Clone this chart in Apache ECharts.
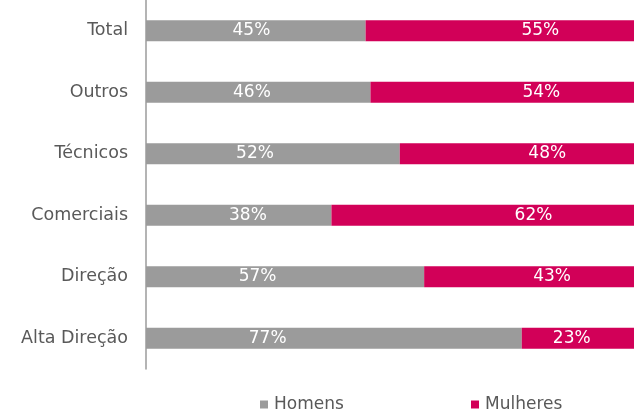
<!DOCTYPE html>
<html><head><meta charset="utf-8">
<script src="https://cdn.jsdelivr.net/npm/echarts@6/dist/echarts.min.js"></script>
<style>html,body{margin:0;padding:0;background:#fff}#c{width:635px;height:409px}</style>
</head><body><div id="c"></div>
<script>
const categories = ['Alta Direção','Direção','Comerciais','Técnicos','Outros','Total'];
const homens = [77,57,38,52,46,45];
const mulheres = [23,43,62,48,54,55];
const chart = echarts.init(document.getElementById('c'));
const FF = 'DejaVu Sans';
const lbl = {show:true,position:'inside',color:'#fff',fontFamily:FF,fontSize:17,formatter:p=>p.value+'%'};
const legBase = {top:391,itemWidth:8,itemHeight:8,icon:'rect',
  textStyle:{color:'#595959',fontFamily:FF,fontSize:17,padding:[0,0,0,1]}};
chart.setOption({
  animation:false,
  grid:{left:146,right:1,top:-4,bottom:40},
  xAxis:{type:'value',min:0,max:100,show:false},
  yAxis:{type:'category',data:categories,
    axisLine:{show:true,lineStyle:{color:'#9B9B9B',width:1.5}},
    axisTick:{show:false},
    axisLabel:{color:'#595959',fontFamily:FF,fontSize:17.5,margin:18}},
  legend:[
    Object.assign({left:255,data:['Homens']},legBase),
    Object.assign({left:466,data:['Mulheres']},legBase)
  ],
  series:[
    {name:'Homens',type:'bar',stack:'a',data:homens,barWidth:21,itemStyle:{color:'#9B9B9B'},label:lbl,
      labelLayout:p=>({x:p.rect.x+82.6+0.104*p.rect.width,y:p.rect.y+p.rect.height/2,align:'center',verticalAlign:'middle'})},
    {name:'Mulheres',type:'bar',stack:'a',data:mulheres,barWidth:21,itemStyle:{color:'#D20058'},label:lbl,
      labelLayout:p=>({x:p.rect.x-39.7+0.799*p.rect.width,y:p.rect.y+p.rect.height/2,align:'center',verticalAlign:'middle'})}
  ]
});
</script></body></html>
